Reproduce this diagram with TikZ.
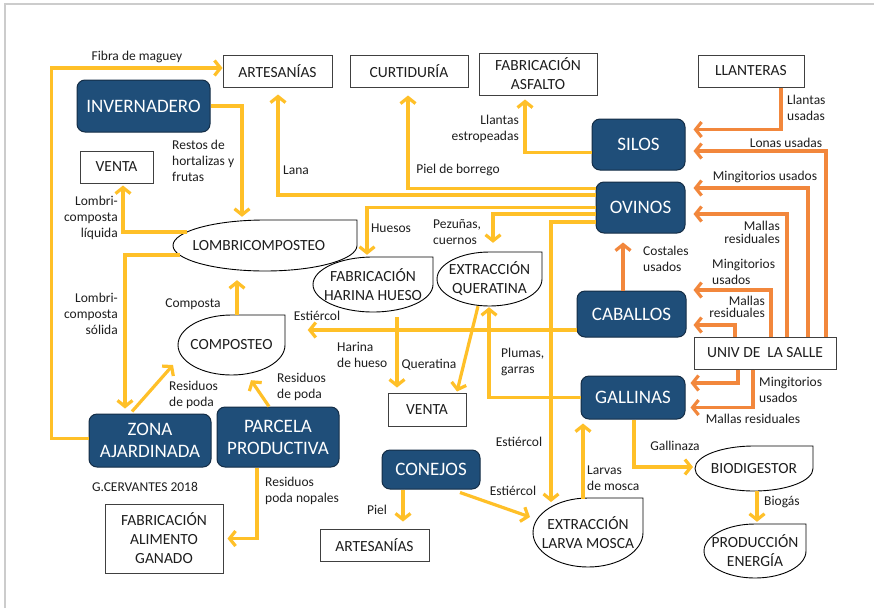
\documentclass[tikz,border=0pt]{standalone}
\usepackage{fontspec}
\setmainfont{Carlito}
\usetikzlibrary{arrows.meta,shapes.geometric,calc}
\definecolor{boxblue}{RGB}{31,78,121}
\definecolor{boxedge}{RGB}{20,45,70}
\definecolor{ylw}{RGB}{255,192,40}
\definecolor{org}{RGB}{242,135,60}
\definecolor{txt}{RGB}{30,30,30}
\newcommand{\bfnt}{\fontsize{19}{22}\selectfont}
\newcommand{\wfnt}{\fontsize{15.5}{19}\selectfont}
\newcommand{\lfnt}{\fontsize{13.5}{16}\selectfont}
\newcommand{\teardrop}[4]{%
  \draw[tearline] (#1-#3,#2) arc[start angle=180,end angle=90,x radius=#3pt,y radius=#4pt]
    -- (#1+#3,#2-#4) -- (#1+#3,#2)
    arc[start angle=0,end angle=-180,x radius=#3pt,y radius=#4pt] -- cycle;}
\begin{document}
\begin{tikzpicture}[x=1pt,y=-1pt,
 blk/.style={rectangle, rounded corners=8pt, fill=boxblue, draw=boxedge, line width=1pt, text=white, font=\bfnt, align=center, inner sep=0pt},
 wbox/.style={rectangle, draw=black!75, line width=1pt, fill=white, text=txt, font=\wfnt, align=center, inner sep=0pt},
 tearnode/.style={ellipse, inner sep=0pt, text=txt, font=\wfnt, align=center},
 tearline/.style={draw=black, line width=0.9pt},
 lbl/.style={text=txt, font=\lfnt, inner sep=0pt},
 ya/.style={draw=ylw, line width=3.2pt, -{Straight Barb[length=6pt,width=15pt]}},
 oa/.style={draw=org, line width=3.2pt, -{Straight Barb[length=6pt,width=15pt]}},
]
\useasboundingbox (0,0) rectangle (874,608);
\fill[white] (0,0) rectangle (874,608);
\draw[black!20, line width=1.5pt] (5,608) -- (5,4) -- (874,4);

% dark boxes
\node[blk, minimum width=133pt, minimum height=52pt] (inv) at (143.5,106) {INVERNADERO};
\node[blk, minimum width=93pt, minimum height=51pt] (silos) at (638.5,144.5) {SILOS};
\node[blk, minimum width=89pt, minimum height=51pt] (ovinos) at (640.5,207.5) {OVINOS};
\node[blk, minimum width=109pt, minimum height=46pt] (caballos) at (631.5,314) {CABALLOS};
\node[blk, minimum width=104pt, minimum height=43pt] (gallinas) at (633,397.5) {GALLINAS};
\node[blk, minimum width=98pt, minimum height=39pt] (conejos) at (431,469.5) {CONEJOS};
\node[blk, minimum width=122pt, minimum height=53pt] (zona) at (150,440.5) {ZONA\\AJARDINADA};
\node[blk, minimum width=122pt, minimum height=60pt] (parcela) at (278,437) {PARCELA\\PRODUCTIVA};

% white boxes
\node[wbox, minimum width=109pt, minimum height=32pt] (art1) at (277.5,71) {ARTESANÍAS};
\node[wbox, minimum width=118pt, minimum height=32pt] (curt) at (409,71) {CURTIDURÍA};
\node[wbox, minimum width=118pt, minimum height=42pt] (asf) at (538,74) {FABRICACIÓN\\ASFALTO};
\node[wbox, minimum width=106pt, minimum height=32pt] (llant) at (751,71) {LLANTERAS};
\node[wbox, minimum width=73pt, minimum height=32pt] (venta1) at (116.5,167) {VENTA};
\node[wbox, minimum width=78pt, minimum height=33pt] (venta2) at (427,409.5) {VENTA};
\node[wbox, minimum width=142pt, minimum height=32pt] (univ) at (765,353) {UNIV DE\ \ LA SALLE};
\node[wbox, minimum width=118pt, minimum height=69pt] (alim) at (164,538.5) {FABRICACIÓN\\ALIMENTO\\GANADO};
\node[wbox, minimum width=109pt, minimum height=32pt] (art2) at (374.5,545) {ARTESANÍAS};

% teardrop shapes
\teardrop{265}{245.5}{92}{25.5}
\node[tearnode, minimum width=184pt, minimum height=51pt] (lomb) at (265,245.5) {LOMBRICOMPOSTEO\hspace*{12pt}};
\teardrop{231.5}{345}{53.5}{30}
\node[tearnode, minimum width=107pt, minimum height=60pt] (comp) at (231.5,345) {COMPOSTEO};
\teardrop{373}{284.5}{60}{27.5}
\node[tearnode, minimum width=120pt, minimum height=55pt] (harina) at (373,284.5) {FABRICACIÓN\\HARINA HUESO};
\teardrop{489.5}{279}{52.5}{27}
\node[tearnode, minimum width=105pt, minimum height=54pt] (quer) at (489.5,279) {EXTRACCIÓN\\QUERATINA};
\teardrop{754}{468.5}{59}{22.5}
\node[tearnode, minimum width=118pt, minimum height=45pt] (biod) at (754,468.5) {BIODIGESTOR};
\teardrop{755}{551}{51}{27}
\node[tearnode, minimum width=102pt, minimum height=54pt] (prod) at (755,551) {PRODUCCIÓN\\ENERGÍA};
\teardrop{588}{532.5}{55}{34.5}
\node[tearnode, minimum width=110pt, minimum height=69pt] (larva) at (588,532.5) {EXTRACCIÓN\\LARVA MOSCA};

% labels
\node[lbl] (lfibra) at (137,57) {Fibra de maguey};
\node[lbl, anchor=west, align=left] (lrestos) at (172,161) {Restos de\\hortalizas y\\frutas};
\node[lbl, anchor=east, align=right] (lliq) at (118,218) {Lombri-\\composta\\líquida};
\node[lbl, anchor=east, align=right] (lsol) at (118,314) {Lombri-\\composta\\sólida};
\node[lbl] (lcomposta) at (193,304) {Composta};
\node[lbl, anchor=west, align=left] (lpoda1) at (169,395) {Residuos\\de poda};
\node[lbl, anchor=west, align=left] (lpoda2) at (277,387) {Residuos\\de poda};
\node[lbl, anchor=west, align=left] (lnopal) at (265,491) {Residuos\\poda nopales};
\node[lbl] (lgcerv) at (145,487) {G.CERVANTES 2018};
\node[lbl] (llana) at (296,170) {Lana};
\node[lbl] (lpiel) at (458,170) {Piel de borrego};
\node[lbl] (lhues) at (391,228) {Huesos};
\node[lbl, anchor=west, align=left] (lpez) at (433,232.5) {Pezuñas,\\cuernos};
\node[lbl, anchor=east, align=right] (lestr) at (519,129) {Llantas\\estropeadas};
\node[lbl, anchor=west, align=left] (lllu) at (787,108) {Llantas\\usadas};
\node[lbl] (llonas) at (786,143) {Lonas usadas};
\node[lbl] (lming1) at (765,177) {Mingitorios usados};
\node[lbl, anchor=east, align=right, font=\fontsize{13.5}{13}\selectfont] (lmall1) at (780,232) {Mallas\\residuales};
\node[lbl, anchor=west, align=left] (lcost) at (643,259) {Costales\\usados};
\node[lbl, anchor=west, align=left] (lming2) at (712,271.5) {Mingitorios\\usados};
\node[lbl, anchor=east, align=right, font=\fontsize{13.5}{12.5}\selectfont] (lmall2) at (765,307) {Mallas\\residuales};
\node[lbl, anchor=west, align=left] (lming3) at (759,390) {Mingitorios\\usados};
\node[lbl] (lmall3) at (753,419) {Mallas residuales};
\node[lbl] (lest1) at (317,316) {Estiércol};
\node[lbl, anchor=west, align=left] (lharina) at (337,355) {Harina\\de hueso};
\node[lbl] (lquer) at (429,365) {Queratina};
\node[lbl, anchor=west, align=left] (lplum) at (501,362) {Plumas,\\garras};
\node[lbl] (lest2) at (519,442) {Estiércol};
\node[lbl] (lpiel2) at (377,510) {Piel};
\node[lbl] (lest3) at (513,491) {Estiércol};
\node[lbl, anchor=west, align=left] (llarv) at (587,478) {Larvas\\de mosca};
\node[lbl] (lgall) at (675,446) {Gallinaza};
\node[lbl, anchor=west] (lbiog) at (764,502) {Biogás};

% yellow connectors
\draw[ya] ([yshift=2pt]zona.west) -- ++(-37,0) |- ([yshift=3pt]art1.west);
\draw[ya] (inv.east) -| ($(lomb.north)+(-23,-3)$);
\draw[ya] ($(lomb.center)+(-78,-13.5)$) -| ($(venta1.south)+(6.5,2)$);
\draw[ya] ($(lomb.center)+(-85,9.5)$) -| ($(zona.north)+(-25,-5)$);
\draw[ya] ($(comp.north)+(5.5,0)$) -- ($(lomb.south)+(-28,9)$);
\draw[ya] ($(zona.north)+(-18,-2)$) -- ($(comp.center)+(-58.5,20)$);
\draw[ya] ($(parcela.north)+(-9,0)$) -- ($(comp.south)+(19.5,5)$);
\draw[ya] ($(parcela.south)+(-21,0)$) |- ($(alim.east)+(4,0)$);
\draw[ya] ($(ovinos.west)+(0,-12.5)$) -| ($(art1.south)+(0.5,7)$);
\draw[ya] ($(ovinos.west)+(0,-19)$) -| ($(curt.south)+(-1,8)$);
\draw[ya] (ovinos.west) -| ($(harina.north)+(-6,-2)$);
\draw[ya] ($(ovinos.west)+(0,6.5)$) -| ($(quer.north)+(3.5,-9)$);
\draw[ya] ($(ovinos.west)+(0,14.5)$) -| ($(larva.center)+(-37,-30.5)$);
\draw[ya] ($(silos.west)+(0,8)$) -| ($(asf.south)+(-13,4)$);
\draw[ya] ($(caballos.west)+(0,16)$) -- ($(comp.east)+(18,-15)$);
\draw[ya] ($(harina.south)+(24,5)$) -- ($(venta2.north)+(-30,-5)$);
\draw[ya] ($(quer.south)+(-11.5,0)$) -- ($(venta2.north)+(30,-1)$);
\draw[ya] (gallinas.west) -| ($(quer.south)+(-0.5,1)$);
\draw[ya] ($(conejos.south)+(-28,0)$) -- ($(art2.north)+(28.5,-7)$);
\draw[ya] ($(conejos.south)+(29,3)$) -- ($(larva.center)+(-58,-15.5)$);
\draw[ya] ($(larva.north)+(-5,1)$) -- ($(gallinas.south)+(-50,4)$);
\draw[ya] ($(gallinas.south)+(1,0)$) |- ($(biod.west)+(0,-1.5)$);
\draw[ya] ($(biod.south)+(3,0)$) -- ($(prod.north)+(2,-2)$);

% orange connectors
\draw[oa] ($(llant.south)+(30,0)$) |- ($(silos.east)+(8,-15)$);
\draw[oa] ($(univ.north)+(61,0)$) |- ($(silos.east)+(8,6.5)$);
\draw[oa] ($(univ.north)+(43,0)$) |- ($(ovinos.east)+(8,-19.5)$);
\draw[oa] ($(univ.north)+(22,0)$) |- ($(ovinos.east)+(8,6.5)$);
\draw[oa] ($(caballos.north)+(-8.5,0)$) -- ($(ovinos.south)+(-17.5,9)$);
\draw[oa] ($(univ.north)+(6,0)$) |- ($(caballos.east)+(7,-24)$);
\draw[oa] ($(univ.north)+(-30,0)$) |- ($(caballos.east)+(7,11)$);
\draw[oa] ($(univ.south)+(-27,0)$) |- ($(gallinas.east)+(5,-14.5)$);
\draw[oa] ($(univ.south)+(-12,0)$) |- ($(gallinas.east)+(5,10)$);
\end{tikzpicture}
\end{document}
